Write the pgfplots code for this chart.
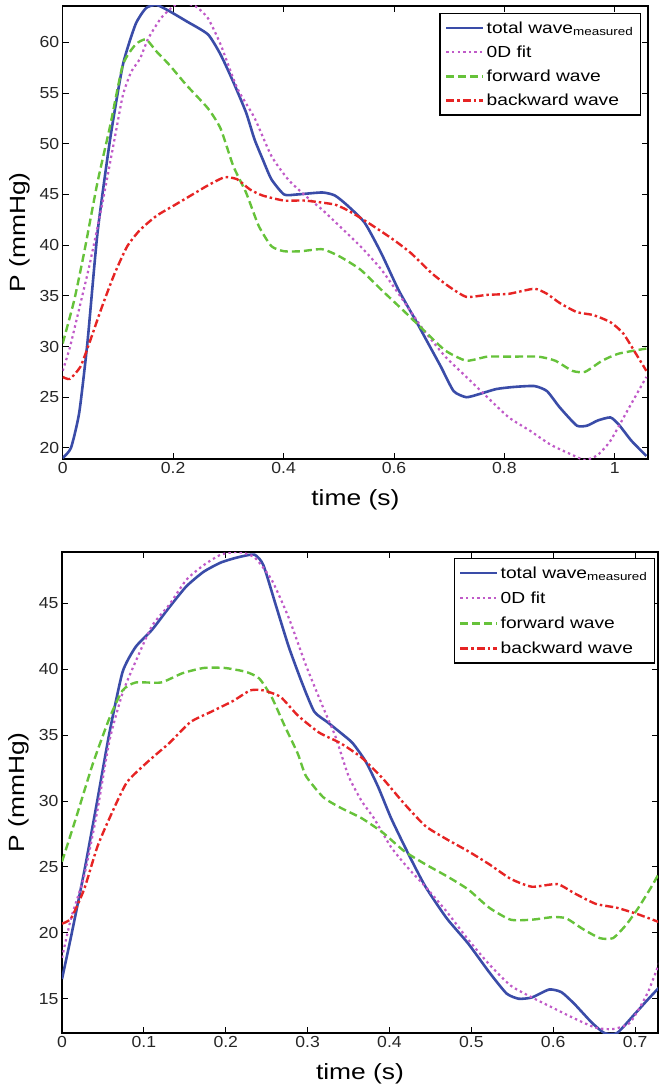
\documentclass[border=0pt]{standalone}
\usepackage{pgfplots}
\usepackage{pgfplotstable}
\pgfplotsset{compat=1.18}
\usepackage{fontspec}
\setmainfont{Liberation Sans}[FakeStretch=1.2]
\newfontfamily\tickfont{Liberation Sans}[FakeStretch=1.1]
\definecolor{cblue}{RGB}{58,76,168}
\definecolor{cmag}{RGB}{192,90,200}
\definecolor{cgreen}{RGB}{102,194,58}
\definecolor{cred}{RGB}{230,36,36}

\pgfplotstableread{
x y
0 19.0
0.015 20.0
0.030 23.5
0.045 30.5
0.063 41.2
0.086 50.5
0.109 57.8
0.132 61.8
0.151 63.4
0.170 63.7
0.193 63.1
0.224 62.1
0.263 60.8
0.286 58.8
0.309 56.1
0.332 53.1
0.347 50.5
0.362 48.5
0.378 46.5
0.401 45.0
0.424 45.0
0.470 45.2
0.493 44.9
0.516 43.9
0.547 42.2
0.577 39.2
0.608 35.6
0.639 32.6
0.662 30.3
0.685 28.0
0.708 25.6
0.731 25.0
0.754 25.3
0.785 25.8
0.815 26.0
0.854 26.1
0.877 25.6
0.900 24.0
0.931 22.2
0.950 22.2
0.969 22.7
0.992 23.0
1.007 22.3
1.030 20.7
1.057 19.2
}\topblue
\pgfplotstableread{
x y
0 27.6
0.013 29.9
0.028 33.3
0.048 37.9
0.071 43.9
0.094 50.5
0.109 54.8
0.124 57.1
0.140 58.4
0.155 60.4
0.178 62.4
0.201 63.6
0.217 63.9
0.240 63.6
0.263 62.4
0.286 59.8
0.316 55.5
0.347 52.6
0.378 48.8
0.408 46.5
0.439 44.9
0.470 43.5
0.501 41.9
0.539 39.9
0.577 37.6
0.616 34.6
0.654 31.6
0.693 29.0
0.731 27.0
0.769 25.0
0.808 23.0
0.846 21.7
0.884 20.3
0.923 19.3
0.946 18.8
0.969 19.3
0.992 20.7
1.023 23.7
1.057 27.0
}\topmag
\pgfplotstableread{
x y
0 30.3
0.021 34.6
0.040 39.6
0.063 46.2
0.086 51.8
0.109 57.8
0.132 59.8
0.151 60.3
0.170 59.1
0.193 57.8
0.224 55.8
0.263 53.5
0.286 51.5
0.309 47.8
0.332 45.2
0.355 41.9
0.378 39.9
0.401 39.4
0.431 39.4
0.470 39.6
0.501 38.9
0.539 37.6
0.577 35.6
0.616 33.6
0.654 31.6
0.693 29.6
0.731 28.6
0.769 29.0
0.808 29.0
0.861 29.0
0.892 28.6
0.923 27.6
0.946 27.5
0.977 28.6
1.007 29.3
1.057 29.8
}\topgreen
\pgfplotstableread{
x y
0 27.0
0.013 26.8
0.032 28.0
0.048 30.3
0.071 33.9
0.094 37.2
0.117 39.9
0.140 41.5
0.170 42.9
0.201 43.9
0.232 44.9
0.263 45.9
0.293 46.7
0.316 46.5
0.339 45.5
0.362 44.9
0.401 44.4
0.439 44.4
0.493 44.0
0.524 43.2
0.562 41.9
0.600 40.5
0.631 39.2
0.669 37.2
0.700 35.9
0.731 34.9
0.769 35.1
0.808 35.2
0.854 35.7
0.877 35.2
0.900 34.3
0.931 33.4
0.961 33.1
0.992 32.4
1.015 31.3
1.038 29.3
1.057 27.6
}\topred

\pgfplotstableread{
x y
0 16.5
0.011 19.7
0.027 24.6
0.043 30.0
0.058 35.2
0.074 39.8
0.090 41.7
0.110 43.0
0.131 44.7
0.152 46.3
0.173 47.4
0.194 48.1
0.215 48.5
0.235 48.7
0.246 47.9
0.261 44.9
0.277 41.7
0.293 39.0
0.308 36.8
0.324 36.0
0.340 35.2
0.355 34.4
0.371 33.0
0.386 31.1
0.402 28.7
0.423 26.0
0.444 23.5
0.470 21.1
0.496 19.2
0.522 17.0
0.543 15.4
0.558 15.0
0.574 15.1
0.595 15.7
0.610 15.5
0.626 14.6
0.647 13.2
0.6625 12.4
0.678 12.4
0.699 13.8
0.715 14.9
0.730 15.9
}\botblue
\pgfplotstableread{
x y
0 18.1
0.011 21.1
0.027 24.3
0.043 29.2
0.058 34.6
0.074 38.2
0.090 40.6
0.110 43.3
0.131 44.9
0.152 46.8
0.173 47.9
0.194 48.7
0.215 48.9
0.235 48.5
0.256 46.8
0.277 43.9
0.298 40.3
0.319 37.1
0.334 34.9
0.350 31.9
0.366 30.0
0.381 28.7
0.402 26.5
0.423 24.9
0.444 23.5
0.470 21.6
0.496 19.5
0.522 17.6
0.548 16.0
0.574 15.1
0.600 14.3
0.626 13.5
0.652 12.8
0.673 12.7
0.694 13.2
0.715 15.4
0.730 17.8
}\botmag
\pgfplotstableread{
x y
0 25.4
0.017 28.7
0.0375 32.8
0.058 36.3
0.074 38.4
0.090 39.0
0.121 39.0
0.147 39.7
0.173 40.1
0.199 40.1
0.225 39.8
0.241 39.3
0.256 37.9
0.272 35.7
0.288 33.6
0.298 31.9
0.319 30.3
0.340 29.5
0.366 28.7
0.392 27.6
0.418 26.2
0.444 25.2
0.470 24.3
0.496 23.3
0.522 21.9
0.548 21.0
0.574 21.0
0.600 21.2
0.616 21.1
0.636 20.3
0.657 19.6
0.673 19.6
0.689 20.6
0.704 21.9
0.720 23.5
0.730 24.6
}\botgreen
\pgfplotstableread{
x y
0 20.7
0.011 21.1
0.027 23.3
0.043 26.5
0.058 28.7
0.079 31.4
0.105 33.0
0.131 34.4
0.157 36.0
0.183 36.8
0.209 37.6
0.230 38.4
0.246 38.4
0.267 37.9
0.288 36.5
0.314 35.2
0.340 34.4
0.366 33.3
0.392 31.7
0.418 29.8
0.444 28.1
0.470 27.1
0.496 26.2
0.522 25.2
0.548 24.1
0.574 23.5
0.605 23.7
0.626 23.0
0.652 22.2
0.678 21.9
0.704 21.4
0.730 20.8
}\botred

\pgfplotsset{
  mystyle/.style={
    scale only axis,
    axis line style={black, line width=1.2pt},
    tick align=inside,
    major tick length=6pt,
    tick style={black, line width=1pt},
    xtick pos=both, ytick pos=both,
    /pgf/number format/assume math mode=true,
    tick label style={font=\tickfont\fontsize{16}{19}\selectfont, text=black!85},
    label style={font=\fontsize{22}{26}\selectfont},
    xlabel={time (s)},
    ylabel={P (mmHg)},
    xlabel style={yshift=-9pt},
    ylabel style={yshift=3pt},
    legend cell align=left,
    legend image code/.code={\draw[##1] (0pt,0pt) -- (37pt,0pt);},
    every axis plot/.append style={smooth, tension=0.35},
    /pgf/number format/fixed,
  },
  totalw/.style={color=cblue, line width=2.6pt},
  fitw/.style={color=cmag, line width=2.2pt, dash pattern=on 2.4pt off 3.2pt},
  forw/.style={color=cgreen, line width=2.4pt, dash pattern=on 8pt off 4pt},
  backw/.style={color=cred, line width=2.4pt, dash pattern=on 8pt off 3pt on 2.5pt off 3pt},
}

\begin{document}
\begin{tikzpicture}
\path (0pt,0pt) rectangle (666pt,-1092pt);
\begin{axis}[mystyle,
  at={(62.7pt,-459pt)}, anchor=south west,
  width=585.3pt, height=453pt,
  xmin=0, xmax=1.06, ymin=18.9, ymax=63.6,
  xtick={0,0.2,0.4,0.6,0.8,1},
  ytick={20,25,30,35,40,45,50,55,60},
  legend style={at={(0.988,0.9845)}, anchor=north east, draw=black, line width=1.2pt,
    font=\fontsize{16}{18}\selectfont, inner xsep=5pt, inner ysep=6pt, row sep=7pt},
]
\addplot[totalw] table {\topblue};
\addlegendentry{total wave\textsubscript{measured}}
\addplot[fitw] table {\topmag};
\addlegendentry{0D fit}
\addplot[forw] table {\topgreen};
\addlegendentry{forward wave}
\addplot[backw] table {\topred};
\addlegendentry{backward wave}
\end{axis}

\begin{axis}[mystyle,
  at={(62pt,-1033pt)}, anchor=south west,
  width=596pt, height=481pt,
  xmin=0, xmax=0.728, ymin=12.4, ymax=48.9,
  xtick={0,0.1,0.2,0.3,0.4,0.5,0.6,0.7},
  ytick={15,20,25,30,35,40,45},
  legend style={at={(0.995,0.9875)}, anchor=north east, draw=black, line width=1.2pt,
    font=\fontsize{16}{18}\selectfont, inner xsep=5pt, inner ysep=6pt, row sep=8pt},
]
\addplot[totalw] table {\botblue};
\addlegendentry{total wave\textsubscript{measured}}
\addplot[fitw] table {\botmag};
\addlegendentry{0D fit}
\addplot[forw] table {\botgreen};
\addlegendentry{forward wave}
\addplot[backw] table {\botred};
\addlegendentry{backward wave}
\end{axis}
\end{tikzpicture}
\end{document}
